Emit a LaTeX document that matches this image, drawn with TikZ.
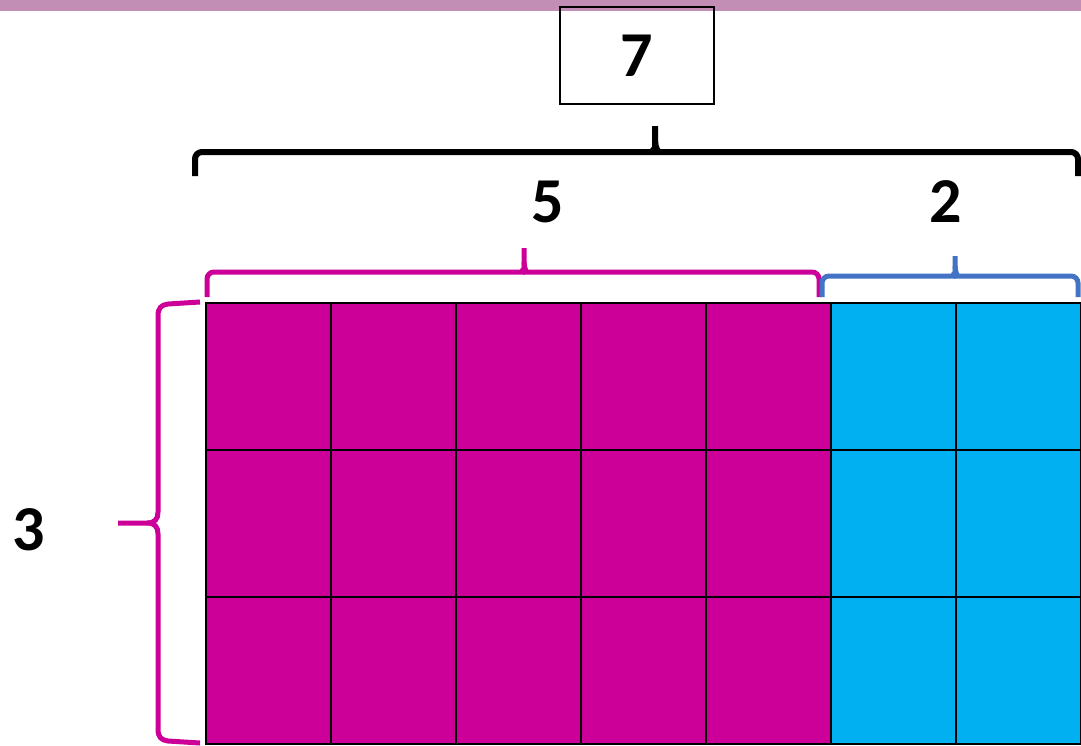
\documentclass[tikz,border=0pt]{standalone}
\usepackage{fontspec}
\setmainfont{Carlito}
\usetikzlibrary{positioning}
\definecolor{bandMauve}{HTML}{C38EB6}
\definecolor{partMagenta}{HTML}{CC0099}
\definecolor{partCyan}{HTML}{00B0F0}
\definecolor{braceBlue}{HTML}{4472C4}

\begin{document}
\begin{tikzpicture}[x=1pt,y=-1pt,
  num/.style={font=\fontsize{64}{70}\selectfont\bfseries, inner sep=0pt},
  brc/.style={line width=5pt, rounded corners=7pt},
  cell/.style={draw=black, line width=2.2pt}]

\useasboundingbox (0,0) rectangle (1081,745);
\fill[bandMauve] (0,0) rectangle (1081,11);

% the 3 x 7 array, split 5 + 2
\foreach \c in {0,...,4}
  \foreach \r in {0,1,2}
    \draw[cell, fill=partMagenta] ({206+125*\c},{303+147*\r}) rectangle ++(125,147);
\foreach \c in {5,6}
  \foreach \r in {0,1,2}
    \draw[cell, fill=partCyan] ({206+125*\c},{303+147*\r}) rectangle ++(125,147);

% whole width
\node[num, draw, line width=1.5pt, minimum width=154pt, minimum height=97pt] (total) at (637,55.5) {7};
\draw[brc, line width=6pt] (195,176) |- (645,152) .. controls (651,152) and (655,148) .. (655,141) -- (655,126);
\draw[brc, line width=6pt] (1078,176) |- (665,152) .. controls (659,152) and (655,148) .. (655,141);

% the two parts
\node[num] (five) at (548,202) {5};
\node[num] (two) at (946,202) {2};
\draw[brc, partMagenta] (207,297) |- (515,272) .. controls (521,272) and (524,268) .. (524,262) -- (524,248);
\draw[brc, partMagenta] (819,297) |- (533,272) .. controls (527,272) and (524,268) .. (524,262);
\draw[brc, braceBlue] (822,297) |- (946,276) .. controls (952,276) and (955,272) .. (955,266) -- (955,256);
\draw[brc, braceBlue] (1078,297) |- (964,276) .. controls (958,276) and (955,272) .. (955,266);

% rows
\node[num] (three) at (29,530) {3};
\draw[line width=5pt, partMagenta] (200,302) -- (168,304) .. controls (161,305) and (158,308) .. (158,316)
  -- (158,512) .. controls (158,519) and (155,523) .. (147,523) -- (118,523);
\draw[line width=5pt, partMagenta] (200,743) -- (168,741) .. controls (161,740) and (158,737) .. (158,729)
  -- (158,534) .. controls (158,527) and (155,523) .. (147,523);
\end{tikzpicture}
\end{document}
